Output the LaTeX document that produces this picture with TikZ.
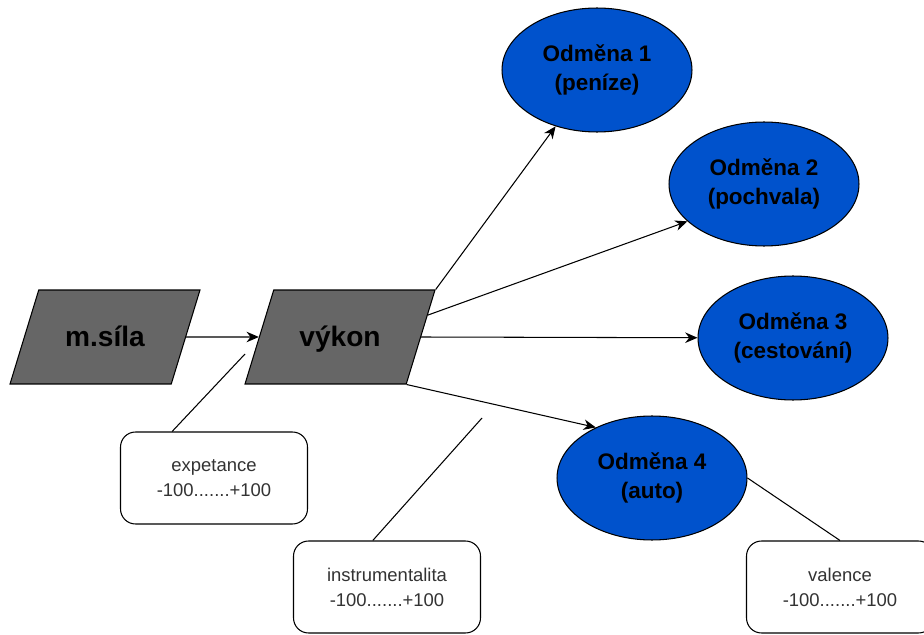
\documentclass[tikz,border=0pt]{standalone}
\usepackage{fontspec}
\setmainfont{Liberation Sans}
\usetikzlibrary{shapes.geometric,arrows.meta}
\definecolor{odmenablue}{RGB}{0,82,204}
\definecolor{silagray}{RGB}{102,102,102}
\definecolor{boxtext}{RGB}{51,51,51}

\begin{document}
\begin{tikzpicture}[x=0.02cm,y=-0.02cm,
  faktor/.style={trapezium,trapezium left angle=73,trapezium right angle=107,
    trapezium stretches body=true,minimum width=3.8cm,
    text height=1.14cm,text depth=0.74cm,inner sep=0pt,
    draw=black,line width=0.6pt,fill=silagray,font=\fontsize{16}{19}\selectfont\bfseries},
  odmena/.style={ellipse,draw=black,line width=0.6pt,fill=odmenablue,
    minimum width=3.8cm,minimum height=2.48cm,inner sep=0pt,align=center,
    font=\fontsize{12.8}{17}\selectfont\bfseries},
  stupnice/.style={rectangle,rounded corners=0.3cm,draw=black,line width=0.6pt,fill=white,
    minimum width=3.74cm,minimum height=1.84cm,align=center,text=boxtext,
    font=\fontsize{10.5}{14.2}\selectfont},
  sipka/.style={-{Stealth[length=7pt,width=6pt]},line width=0.6pt},
  cara/.style={line width=0.6pt}]
\useasboundingbox (0,0) rectangle (924,635);

% Motivacni sila a vykon
\node[faktor] (msila) at (105,337) {m.síla};
\node[faktor] (vykon) at (340,337) {výkon};

% Odmeny
\node[odmena] (o1) at (597,70) {Odměna 1\\(peníze)};
\node[odmena] (o2) at (764,184) {Odměna 2\\(pochvala)};
\node[odmena] (o3) at (793,338) {Odměna 3\\(cestování)};
\node[odmena] (o4) at (652,478) {Odměna 4\\(auto)};

% Stupnice
\node[stupnice] (exp) at (214,478) {expetance\\-100.......+100};
\node[stupnice] (ins) at (387,587) {instrumentalita\\-100.......+100};
\node[stupnice] (val) at (840,587) {valence\\-100.......+100};

% Sipky
\draw[sipka] (msila) -- (vykon);
\draw[sipka] (vykon.top right corner) -- (o1);
\draw[sipka] (vykon.14) -- (o2.206);
\draw[sipka] (vykon.east) -- (o3);
\draw[sipka] (vykon.bottom right corner) -- (o4.138);

% Volne cary
\coordinate (expend) at (245,354);
\coordinate (insend) at (482,418);
\draw[cara] (exp.132) -- (expend);
\draw[cara] (ins.107) -- (insend);
\draw[cara] (val.north) -- (o4.east);
\end{tikzpicture}
\end{document}
